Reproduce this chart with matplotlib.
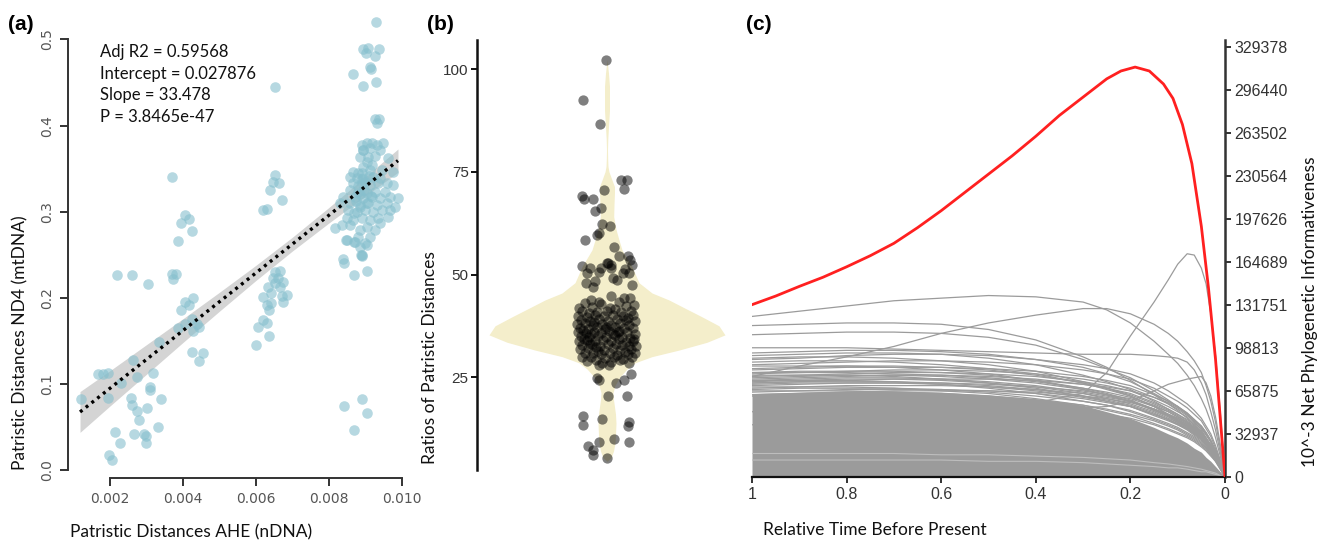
import numpy as np
import matplotlib
matplotlib.use("Agg")
import matplotlib.pyplot as plt

# ---------------- Panel (a) data ----------------
a_x = [0.00120, 0.00168, 0.00182, 0.00195, 0.00194, 0.00197, 0.00205, 0.00214, 0.00220, 0.00228,
       0.00230, 0.00258, 0.00260, 0.00260, 0.00262, 0.00266, 0.00273, 0.00275, 0.00280, 0.00294,
       0.00298, 0.00300, 0.00303, 0.00305, 0.00310, 0.00310, 0.00317, 0.00331, 0.00334, 0.00340,
       0.00369, 0.00369, 0.00381, 0.00374, 0.00387, 0.00395, 0.00406, 0.00417, 0.00425, 0.00427,
       0.00406, 0.00418, 0.00394, 0.00387, 0.00406, 0.00424, 0.00440, 0.00445, 0.00428, 0.00424,
       0.00454, 0.00443,
       0.00654, 0.00654, 0.00648, 0.00664, 0.00639, 0.00671, 0.00621, 0.00630,
       0.00653, 0.00666, 0.00648, 0.00662, 0.00675, 0.00634, 0.00653, 0.00666, 0.00685, 0.00620,
       0.00643, 0.00671, 0.00630, 0.00643, 0.00675, 0.00637, 0.00619, 0.00630, 0.00607, 0.00637,
       0.00600,
       0.00929, 0.00895, 0.00909, 0.00939, 0.00902, 0.00927, 0.00913, 0.00915, 0.00866, 0.00930,
       0.00895, 0.00927, 0.00939, 0.00932,
       0.00890, 0.00904, 0.00918, 0.00932, 0.00950, 0.00895, 0.00913, 0.00941, 0.00886, 0.00909,
       0.00927, 0.00963, 0.00918, 0.00913, 0.00867, 0.00881, 0.00945, 0.00858, 0.00877, 0.00895,
       0.00922, 0.00941, 0.00977, 0.00867, 0.00890, 0.00913, 0.00936, 0.00959, 0.00858, 0.00881,
       0.00904, 0.00927, 0.00954, 0.00977, 0.00872, 0.00895, 0.00918, 0.00941, 0.00968, 0.00840,
       0.00831, 0.00858, 0.00886, 0.00909, 0.00932, 0.00959, 0.00991, 0.00982, 0.00854, 0.00877,
       0.00900, 0.00922, 0.00945, 0.00968, 0.00849, 0.00867, 0.00890, 0.00913, 0.00936, 0.00963,
       0.00858, 0.00904, 0.00941, 0.00817, 0.00836, 0.00886, 0.00927, 0.00881, 0.00913, 0.00849,
       0.00872, 0.00900, 0.00886, 0.00890, 0.00840,
       0.00880, 0.00885, 0.00890, 0.00895, 0.00900, 0.00905, 0.00885, 0.00875, 0.00898, 0.00910,
       0.00905, 0.00895, 0.00915, 0.00870, 0.00892,
       0.00842, 0.00869, 0.00906, 0.00889, 0.00892, 0.00904, 0.00848, 0.00870,
       0.00842, 0.00890, 0.00906, 0.00870]
a_y = [0.083, 0.112, 0.112, 0.113, 0.084, 0.017, 0.012, 0.044, 0.226, 0.031,
       0.101, 0.084, 0.076, 0.226, 0.128, 0.042, 0.108, 0.068, 0.058, 0.042,
       0.039, 0.031, 0.072, 0.216, 0.096, 0.093, 0.113, 0.050, 0.149, 0.083,
       0.340, 0.228, 0.228, 0.222, 0.266, 0.287, 0.296, 0.292, 0.277, 0.200,
       0.195, 0.192, 0.186, 0.165, 0.170, 0.175, 0.170, 0.166, 0.161, 0.137,
       0.136, 0.127,
       0.4445, 0.343, 0.335, 0.333, 0.325, 0.314, 0.302, 0.303,
       0.230, 0.2315, 0.2227, 0.2227, 0.2187, 0.2129, 0.2168, 0.2129, 0.2033, 0.2013,
       0.2052, 0.2021, 0.1916, 0.1936, 0.1955, 0.1858, 0.1742, 0.1711, 0.1664, 0.1556,
       0.1452,
       0.520, 0.489, 0.490, 0.489, 0.484, 0.481, 0.468, 0.466, 0.460, 0.451,
       0.446, 0.408, 0.408, 0.403,
       0.3775, 0.3794, 0.3801, 0.3775, 0.3794, 0.3717, 0.3736, 0.3717, 0.3639, 0.3639,
       0.3647, 0.3620, 0.3542, 0.3484, 0.3465, 0.3446, 0.3484, 0.3407, 0.3388, 0.3388,
       0.3407, 0.3388, 0.3465, 0.3330, 0.3330, 0.3310, 0.3330, 0.3330, 0.3252, 0.3233,
       0.3214, 0.3233, 0.3233, 0.3310, 0.3175, 0.3156, 0.3175, 0.3156, 0.3175, 0.3175,
       0.3098, 0.3098, 0.3078, 0.3098, 0.3078, 0.3098, 0.3156, 0.3058, 0.3020, 0.3000,
       0.3020, 0.3000, 0.3020, 0.3020, 0.2923, 0.2904, 0.2923, 0.2904, 0.2923, 0.2942,
       0.2846, 0.2826, 0.2865, 0.2807, 0.2846, 0.2787, 0.2787, 0.2710, 0.2710, 0.2671,
       0.2652, 0.2633, 0.2594, 0.2497, 0.2447,
       0.330, 0.320, 0.345, 0.352, 0.335, 0.310, 0.305, 0.312, 0.325, 0.342,
       0.358, 0.372, 0.318, 0.298, 0.338,
       0.240, 0.227, 0.2315, 0.250, 0.248, 0.261, 0.267, 0.265,
       0.0747, 0.082, 0.0658, 0.0465]

fit_x = [0.00118, 0.00990]
fit_y = [0.0674, 0.3593]
band_x = [0.00118, 0.002, 0.003, 0.004, 0.005, 0.006, 0.007, 0.008, 0.009, 0.0099]
band_lo = [0.0437, 0.0743, 0.1111, 0.1480, 0.1843, 0.2200, 0.2542, 0.2867, 0.3180, 0.3458]
band_hi = [0.0911, 0.1153, 0.1455, 0.1756, 0.2063, 0.2376, 0.2702, 0.3047, 0.3404, 0.3728]
a_xticks = [0.002, 0.004, 0.006, 0.008, 0.010]
a_xticklabels = ["0.002", "0.004", "0.006", "0.008", "0.010"]
a_yticks = [0.0, 0.1, 0.2, 0.3, 0.4, 0.5]
a_yticklabels = ["0.0", "0.1", "0.2", "0.3", "0.4", "0.5"]
stats_text = ["Adj R2 = 0.59568", "Intercept = 0.027876", "Slope = 33.478", "P = 3.8465e-47"]

# ---------------- Panel (b) data ----------------
violin_y = [4.5, 5.4, 7, 9, 11, 13.8, 16, 17.8, 19.5, 21.2, 23, 25.1, 27, 28.5, 30, 31.6, 33.5,
            35.3, 37.5, 39.7, 41.8, 43.8, 45.5, 48, 51.9, 56, 58.4, 61, 64.1, 67, 70, 71.4, 73,
            75, 76.3, 78, 80.3, 83, 86, 90, 95.8, 99, 102.3]
violin_half = [0, 4, 6.5, 8, 8.5, 9, 8.5, 7.5, 6.5, 6, 8, 13, 20, 28, 45, 72, 100,
               118, 112, 95, 78, 62, 45, 32, 25, 15, 12, 9, 6.7, 7, 7.5, 7.5, 5,
               2, 1, 0.7, 0.5, 0.8, 1.5, 2.5, 2.5, 1.5, 0]
b_dx = [-1, -24, -7, 14, 20, 17, -3, -25, -23, -14, -12, -6, -5, 3, -10, -8, -22, 7, 12, 21,
        23, 25, 0, 4, -25, -17, -6, 18, -20, -8, 1, 4, 6, 10, 16, 22, -21, -14, -12, 25,
        4, 17, 23, -16, -8,
        -8, -10, -8, 2, 9, 17, 24, 1, 20, -24, -24, -5, 22, 21, 7, 22, -19, -14, -8, -14, 0,
        -22, -6, 12, 27, -28, -15, 3, 19, 8, -25, -10, 0, 14, 24, -18,
        -29, -20, -12, -3, 6, 16, 26, 21, -26, -17, -8, 1, 10, 19, 28, -13,
        -30, -22, -14, -5, 4, 13, 22, -1, -27, -19, -10, -2, 8, 17, 26, -24, 12,
        -29, -21, -13, -6, 2, 11, 20, 28, -16, 6, -26, -18, -9, -1, 8, 15, 23, -23, 27,
        -28, -20, -12, -4, 4, 12, 19, 26, -15, 9, -25, -17, -7, 1, 15, 22, 29, -11,
        -27, -19, -3, 6, 13, 24, -9, 18, -22, -14, -6, 3, 10, 21, 28,
        -25, -16, -2, 7, 16, 25, -20, -11, 4, 13, -5, 22]
b_val = [102.2, 92.5, 86.6, 73.0, 73.0, 70.7, 70.6, 69.0, 68.4, 68.4, 65.5, 66.1, 62.2, 61.9, 59.6,
         60.1, 58.4, 56.6, 54.5, 54.5, 53.5, 52.3, 52.8, 52.3, 52.1, 51.6, 51.5, 51.4, 50.3, 50.7,
         52.7, 51.5, 49.1, 48.7, 50.3, 50.3, 47.9, 47.0, 48.3, 47.5, 44.8, 44.2, 44.2, 43.8, 43.4,
         28.0, 24.8, 24.3, 28.0, 23.5, 24.2, 25.7, 20.4, 20.3, 15.6, 13.4, 14.9, 14.0, 13.2, 10.0,
         9.3, 8.3, 7.3, 9.1, 6.1, 5.3,
         43.0, 42.8, 43.2, 42.6, 41.8, 42.1, 41.9, 42.3, 41.6, 41.0, 40.8, 41.2, 40.9, 41.1, 40.6,
         40.0, 39.7, 40.1, 39.8, 40.2, 39.9, 40.1, 39.4, 39.0, 38.8, 39.1, 38.7, 39.2, 38.9, 38.6, 38.4,
         37.9, 38.1, 37.7, 38.0, 37.8, 38.2, 37.6, 37.3, 37.0, 36.8, 37.2, 36.7, 37.1, 36.9, 37.0, 36.4, 36.3,
         36.0, 35.8, 36.1, 35.7, 36.2, 35.9, 36.1, 35.6, 35.4, 35.5, 35.0, 34.8, 35.1, 34.7, 35.2, 34.9,
         34.6, 34.3, 34.2,
         33.9, 34.0, 33.7, 34.1, 33.8, 34.2, 33.6, 33.8, 33.2, 33.1, 32.8, 33.0, 32.7, 33.1, 32.9, 32.5,
         32.7, 32.3,
         31.8, 32.0, 31.7, 32.1, 31.6, 31.9, 31.4, 31.2, 30.8, 31.0, 30.7, 30.9, 30.4, 30.6, 30.9,
         29.9, 30.0, 29.7, 29.9, 29.5, 29.8, 28.9, 29.1, 28.8, 29.2, 28.5, 28.4]
b_yticks = [25, 50, 75, 100]

# ---------------- Panel (c) data (values in thousands) ----------------
red_t = [1.0, 0.95, 0.9, 0.85, 0.8, 0.75, 0.7, 0.65, 0.6, 0.55, 0.5, 0.45, 0.4, 0.35, 0.3, 0.25,
         0.22, 0.19, 0.16, 0.13, 0.11, 0.09, 0.07, 0.05, 0.035, 0.02, 0.01, 0.0]
red_v = [132, 138.6, 146, 153, 161, 169.5, 179, 191, 204, 218, 232, 246, 261, 277, 291, 305,
         311, 314, 311, 301, 290, 270, 240, 192, 145, 90, 45, 0]
c_t = [1.0, 0.9, 0.8, 0.7, 0.6, 0.5, 0.4, 0.3, 0.25, 0.2, 0.15, 0.12, 0.1, 0.08, 0.065,
       0.05, 0.04, 0.03, 0.02, 0.01, 0.0]
band_upper = [64, 65, 66, 66, 65, 63, 60, 55, 50, 45, 38, 33, 30, 26, 22, 19, 15, 12, 8, 4, 0]
light_streaks = [
    [18, 18, 18, 18, 17, 17, 16, 15, 14, 13, 11, 10, 9, 8, 7, 6, 5, 4, 3, 1, 0],
    [13, 13, 13, 13, 13, 12, 12, 11, 10, 9, 8, 7, 7, 6, 5, 4, 4, 3, 2, 1, 0],
]
gray_curves = [
    [123, 127, 131, 135, 137, 139, 138, 134, 128, 118, 104, 94, 87, 78, 70, 60, 52, 42, 30, 16, 0],
    [77, 85, 92, 100, 110, 118, 124, 129, 129, 125, 117, 110, 104, 96, 89, 80, 70, 58, 42, 22, 0],
    [116, 117, 118, 118, 117, 113, 105, 92, 84, 74, 63, 56, 51, 45, 40, 34, 28, 22, 15, 8, 0],
    [109, 110, 111, 111, 110, 107, 101, 90, 83, 76, 66, 59, 54, 48, 42, 36, 30, 24, 17, 9, 0],
    [99, 99, 99, 98, 97, 96, 95, 94, 94, 94, 93, 92, 91, 88, 82, 72, 63, 50, 36, 19, 0],
    [40, 42, 45, 48, 50, 53, 57, 64, 80, 108, 134, 151, 163, 171, 170, 160, 148, 125, 93, 50, 0],
    [50, 51, 52, 52, 52, 52, 52, 53, 54, 58, 66, 71, 73, 75, 76, 77, 72, 62, 46, 25, 0],
    [95, 96, 97, 97, 96, 94, 90, 84, 79, 73, 64, 58, 54, 49, 44, 39, 34, 28, 20, 11, 0],
    [93, 94, 95, 95, 94, 91, 86, 78, 73, 67, 58, 52, 48, 43, 39, 34, 29, 24, 17, 9, 0],
    [91, 92, 92, 91, 89, 86, 81, 73, 68, 62, 54, 48, 44, 40, 36, 31, 27, 22, 15, 8, 0],
    [90, 91, 93, 94, 94, 93, 90, 86, 83, 79, 72, 66, 61, 56, 51, 45, 39, 33, 24, 13, 0],
    [88, 89, 89, 88, 86, 83, 79, 72, 67, 62, 54, 48, 44, 40, 36, 31, 27, 22, 15, 8, 0],
    [86, 87, 88, 89, 89, 88, 86, 82, 79, 75, 68, 62, 58, 53, 48, 43, 37, 31, 22, 12, 0],
    [85, 85, 85, 84, 82, 79, 74, 67, 63, 58, 51, 46, 42, 38, 34, 30, 26, 21, 15, 8, 0],
    [83, 84, 85, 85, 84, 82, 78, 72, 68, 63, 56, 51, 47, 42, 38, 34, 29, 24, 17, 9, 0],
    [82, 83, 84, 84, 84, 83, 81, 77, 74, 70, 63, 58, 54, 49, 44, 39, 34, 28, 20, 11, 0],
    [80, 81, 81, 81, 80, 78, 74, 68, 64, 59, 52, 47, 43, 39, 35, 31, 27, 22, 15, 8, 0],
    [79, 80, 81, 82, 82, 81, 79, 75, 72, 68, 61, 56, 52, 47, 43, 38, 33, 27, 19, 10, 0],
    [78, 78, 78, 77, 75, 72, 68, 62, 58, 54, 47, 43, 40, 36, 32, 28, 24, 20, 14, 7, 0],
    [76, 77, 78, 78, 77, 75, 72, 67, 63, 58, 52, 47, 43, 39, 35, 31, 27, 22, 15, 8, 0],
    [75, 76, 77, 78, 78, 77, 75, 71, 68, 64, 57, 52, 48, 44, 40, 35, 30, 25, 18, 10, 0],
    [74, 74, 74, 73, 71, 68, 64, 58, 55, 50, 44, 40, 37, 33, 30, 26, 22, 18, 13, 7, 0],
    [73, 74, 75, 75, 74, 72, 69, 64, 60, 56, 50, 45, 42, 38, 34, 30, 26, 21, 15, 8, 0],
    [72, 73, 73, 73, 72, 70, 67, 62, 59, 55, 49, 44, 41, 37, 33, 29, 25, 21, 15, 8, 0],
    [70, 71, 72, 72, 72, 71, 69, 66, 63, 60, 54, 50, 46, 42, 38, 34, 29, 24, 17, 9, 0],
    [69, 69, 69, 68, 66, 64, 60, 55, 51, 47, 41, 37, 34, 31, 28, 24, 21, 17, 12, 6, 0],
    [68, 69, 70, 70, 70, 69, 67, 64, 61, 58, 52, 48, 45, 41, 37, 33, 28, 23, 16, 9, 0],
    [67, 68, 68, 68, 67, 65, 62, 58, 55, 51, 45, 41, 38, 34, 31, 27, 23, 19, 13, 7, 0],
    [66, 66, 66, 65, 64, 62, 59, 55, 52, 48, 43, 39, 36, 32, 29, 25, 22, 18, 13, 7, 0],
    [77, 78, 79, 80, 80, 79, 77, 73, 70, 66, 59, 54, 50, 46, 41, 37, 32, 27, 19, 10, 0],
    [74, 75, 76, 76, 75, 73, 70, 65, 62, 58, 51, 47, 43, 39, 35, 31, 27, 22, 16, 8, 0],
    [71, 72, 72, 72, 71, 69, 66, 61, 58, 54, 48, 44, 40, 37, 33, 29, 25, 21, 15, 8, 0],
    [65, 66, 67, 67, 67, 66, 64, 60, 57, 54, 48, 44, 41, 37, 34, 29, 25, 21, 15, 8, 0],
    [63, 64, 65, 66, 66, 66, 65, 62, 60, 57, 52, 48, 45, 41, 37, 32, 28, 23, 17, 9, 0],
    [62, 62, 62, 61, 60, 58, 55, 51, 48, 45, 40, 36, 33, 30, 27, 23, 20, 16, 12, 6, 0],
    [80, 80, 80, 79, 78, 76, 73, 68, 65, 61, 55, 50, 46, 42, 37, 33, 28, 23, 17, 9, 0],
    [72, 73, 74, 75, 75, 75, 74, 71, 69, 66, 61, 57, 53, 48, 43, 38, 33, 27, 19, 10, 0],
]
c_xticks = [1, 0.8, 0.6, 0.4, 0.2, 0]
c_xticklabels = ["1", "0.8", "0.6", "0.4", "0.2", "0"]
c_yticks = [0, 32937, 65875, 98813, 131751, 164689, 197626, 230564, 263502, 296440, 329378]

# ---------------- Figure ----------------
W, H = 1329, 541
fig = plt.figure(figsize=(W / 100, H / 100), dpi=100)

def box(l, t, r, b):
    return [l / W, 1 - b / H, (r - l) / W, (b - t) / H]

LABEL_FONT = "Lato"
TICK_FONT = "DejaVu Sans"

# ---- (a)
ax = fig.add_axes(box(68, 14, 406, 478))
ax.fill_between(band_x, band_lo, band_hi, color="#d4d4d4", lw=0, zorder=1)
ax.scatter(a_x, a_y, s=58, color="#86bfcd", alpha=0.6, lw=0, zorder=2)
ax.plot(fit_x, fit_y, color="black", lw=2.4, linestyle=(0, (0.9, 1.3)), zorder=3)
ax.set_xlim(0.00085, 0.01012)
ax.set_ylim(-0.0093, 0.5296)
for s in ["top", "right"]:
    ax.spines[s].set_visible(False)
ax.spines["left"].set_bounds(0, 0.5)
ax.spines["bottom"].set_bounds(0.002, 0.010)
for s in ["left", "bottom"]:
    ax.spines[s].set_linewidth(1.4)
    ax.spines[s].set_color("#333333")
ax.set_xticks(a_xticks)
ax.set_xticklabels(a_xticklabels, fontsize=10, family=TICK_FONT, color="#555555")
ax.set_yticks(a_yticks)
ax.set_yticklabels(a_yticklabels, fontsize=10, family=TICK_FONT, color="#555555",
                   rotation=90, va="center")
ax.tick_params(length=6, width=1.4, color="#333333", pad=4)
for i, line in enumerate(stats_text):
    fig.text(100 / W, 1 - (52 + 21.5 * i) / H, line, fontsize=12, family=LABEL_FONT,
             va="center", ha="left", color="#111111")
fig.text(70 / W, 1 - 532 / H, "Patristic Distances AHE (nDNA)", fontsize=12.5,
         family=LABEL_FONT, va="center", ha="left", color="#111111")
fig.text(20 / W, 1 - 343 / H, "Patristic Distances ND4 (mtDNA)", fontsize=12.5,
         family=LABEL_FONT, va="center", ha="center", rotation=90, color="#111111")
fig.text(8 / W, 1 - 24 / H, "(a)", fontsize=15, family="Liberation Sans",
         weight="bold", va="center", ha="left")

# ---- (b)
bx = fig.add_axes(box(477, 40, 740, 470))
vh = np.array(violin_half)
bx.fill_betweenx(violin_y, -vh, vh, color="#f4eecb", lw=0, zorder=1)
bx.scatter(b_dx, b_val, s=55, color="black", alpha=0.5, lw=0, zorder=2)
bx.set_xlim(-130, 133)
bx.set_ylim(2.4, 107.1)
for s in ["top", "right", "bottom"]:
    bx.spines[s].set_visible(False)
bx.spines["left"].set_linewidth(1.8)
bx.spines["left"].set_color("#111111")
bx.set_xticks([])
bx.set_yticks(b_yticks)
bx.set_yticklabels([str(v) for v in b_yticks], fontsize=11, family="Liberation Sans",
                   color="#333333")
bx.tick_params(axis="y", length=4, width=1.4, color="#111111", pad=2)
fig.text(430 / W, 1 - 358 / H, "Ratios of Patristic Distances", fontsize=12.5,
         family=LABEL_FONT, va="center", ha="center", rotation=90, color="#111111")
fig.text(427 / W, 1 - 24 / H, "(b)", fontsize=15, family="Liberation Sans",
         weight="bold", va="center", ha="left")

# ---- (c)
cx = fig.add_axes(box(752, 40, 1225, 477))
ct = np.array(c_t)
cx.fill_between(ct, 0, np.array(band_upper) * 1000, color="#9b9b9b", lw=0, zorder=1)
for g in light_streaks:
    cx.plot(ct, np.array(g) * 1000, color="#bdbdbd", lw=0.8, zorder=1.5)
for g in gray_curves:
    cx.plot(ct, np.array(g) * 1000, color="#9b9b9b", lw=0.9, zorder=2)
cx.plot(red_t, np.array(red_v) * 1000, color="#ff2020", lw=2.0, zorder=3)
cx.set_xlim(1, 0)
cx.set_ylim(0, 334740)
for s in ["top", "left"]:
    cx.spines[s].set_visible(False)
cx.spines["right"].set_linewidth(1.8)
cx.spines["right"].set_color("#333333")
cx.spines["bottom"].set_linewidth(1.6)
cx.spines["bottom"].set_color("#111111")
cx.yaxis.tick_right()
cx.set_xticks(c_xticks)
cx.set_xticklabels(c_xticklabels, fontsize=11.5, family="Liberation Sans", color="#333333")
cx.set_yticks(c_yticks)
cx.set_yticklabels([str(v) for v in c_yticks], fontsize=11.5, family="Liberation Sans",
                   color="#333333")
cx.tick_params(axis="both", length=4, width=1.4, color="#333333", pad=3)
fig.text(763 / W, 1 - 530 / H, "Relative Time Before Present", fontsize=12.5,
         family=LABEL_FONT, va="center", ha="left", color="#111111")
fig.text(1310 / W, 1 - 312 / H, "10^-3 Net Phylogenetic Informativeness", fontsize=12.5,
         family=LABEL_FONT, va="center", ha="center", rotation=90, color="#111111")
fig.text(746 / W, 1 - 24 / H, "(c)", fontsize=15, family="Liberation Sans",
         weight="bold", va="center", ha="left")

fig.savefig("out.png", dpi=100)
